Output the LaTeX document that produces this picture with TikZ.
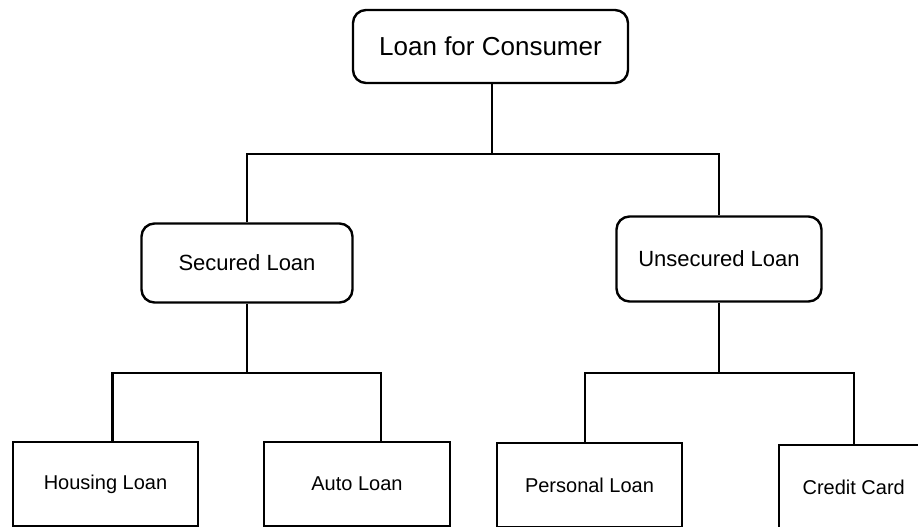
\documentclass[tikz,border=0pt]{standalone}
\usepackage{fontspec}
\setmainfont{Liberation Sans}
\usetikzlibrary{positioning}

\tikzset{
  roundbox/.style={draw, line width=2.4pt, rounded corners=13pt, inner sep=0pt, align=center},
  leafbox/.style={draw, line width=2.4pt, inner sep=0pt, minimum width=185pt, minimum height=84pt,
    font=\fontsize{20}{24}\selectfont},
  link/.style={line width=2.4pt},
}

\begin{document}
\begin{tikzpicture}[x=1pt, y=-1pt]
      %\draw[help lines, step=50] (0, 0) grid (918, 527);
      \useasboundingbox (0,0) rectangle (918,527);
      \clip (0,0) rectangle (918,527);

      \node[roundbox, minimum width=275pt, minimum height=73pt, font=\fontsize{26}{30}\selectfont]
        (consumer) at (490.5, 46.5) {Loan for Consumer};

      \node[roundbox, minimum width=211pt, minimum height=79pt, font=\fontsize{22}{26}\selectfont]
        (secured) at (247, 263) {Secured Loan};
      \node[roundbox, minimum width=205pt, minimum height=85pt, font=\fontsize{22}{26}\selectfont]
        (unsecured) at (719, 259) {Unsecured Loan};

      \node[leafbox] (housing) at (105.5, 484) {Housing Loan};
      \node[leafbox, minimum width=186pt] (auto) at (357, 484) {Auto Loan};
      \node[leafbox] (personal) at (589.5, 485) {Personal Loan};
      % box runs past the right and bottom edges of the page
      \node[leafbox, minimum width=200pt, minimum height=90pt, anchor=north west] (credit) at (778, 444)
        {\makebox[149pt]{Credit Card}\hspace*{51pt}\rule[-6pt]{0pt}{0pt}};

      \coordinate (topbus) at (492, 154);
      \coordinate (leftbus) at (247, 373);
      \coordinate (rightbus) at (719, 373);

      \draw[link] ([xshift=1.5pt]consumer.south) -- (topbus);
      \draw[link] (secured.north) |- (topbus) -| (unsecured.north);

      \draw[link] (secured.south) -- (leftbus);
      \draw[link] ([xshift=7pt]housing.north) |- (leftbus) -| ([xshift=24pt]auto.north);

      \draw[link] (unsecured.south) -- (rightbus);
      \draw[link] ([xshift=-4.5pt]personal.north) |- (rightbus) -| ([xshift=-25pt]credit.north);
\end{tikzpicture}
\end{document}
